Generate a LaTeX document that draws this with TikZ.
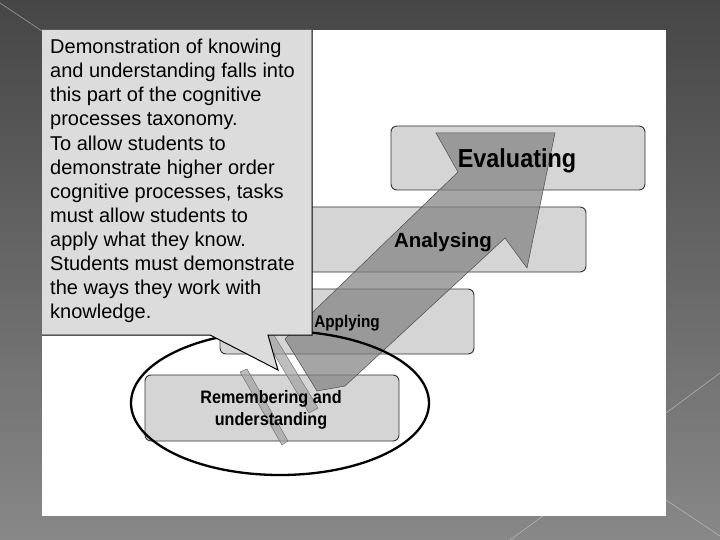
\documentclass[tikz,border=0pt]{standalone}
\usepackage{fontspec}
\setmainfont{Liberation Sans}
\newfontfamily\condsans[FakeStretch=0.9]{Liberation Sans}
\usetikzlibrary{shapes.geometric}
\definecolor{bgtop}{HTML}{464646}
\definecolor{bgbot}{HTML}{888888}
\definecolor{boxfill}{HTML}{D5D5D5}
\definecolor{callfill}{HTML}{DCDCDC}
\begin{document}
\begin{tikzpicture}[x=1pt,y=-1pt,
  deco/.style={draw=white!75!gray, line width=0.6pt, opacity=0.55},
  levelbox/.style={draw=black!80, fill=boxfill, rounded corners=6pt, line width=0.9pt, inner sep=0pt},
  bigarrow/.style={fill=black!50, fill opacity=0.7, draw=black!70, line width=0.5pt},
  tailstrip/.style={fill=black!36, fill opacity=0.7, draw=black!60, line width=0.4pt},
  lvltext/.style={inner sep=0pt, align=center},
  calltext/.style={inner sep=0pt, align=left, anchor=north west, font=\fontsize{20}{24.1}\selectfont}
]
\useasboundingbox (0,0) rectangle (720,540);
\shade[top color=bgtop, bottom color=bgbot] (0,0) rectangle (720,540);
\draw[deco] (0,3) -- (42,31);
\draw[deco] (666,413) -- (720,373);
\draw[deco] (510,540) -- (543,516);
\draw[deco] (666,500) -- (720,536);
\fill[white] (42,30) rectangle (666,516);

% level boxes
\node[levelbox, minimum width=254pt, minimum height=64pt] (evalbox) at (518,158) {};
\node[levelbox, minimum width=284pt, minimum height=65pt] (anabox) at (444,239.5) {};
\node[levelbox, minimum width=254pt, minimum height=65pt] (appbox) at (347,321.5) {};
\node[levelbox, minimum width=254pt, minimum height=66pt] (rembox) at (272,408) {};

% rising arrow and tail strips
\filldraw[bigarrow] (436,133) -- (555,133) -- (527,268) -- (505,238) -- (345,386)
  -- (317,391) -- (285,339) -- (458,172) -- cycle;
\filldraw[tailstrip] (257,325) -- (266,322) -- (318,408) -- (309,413) -- cycle;
\filldraw[tailstrip] (240,372) -- (247,369) -- (288,441) -- (282,445) -- cycle;

% level labels
\node[lvltext, font=\condsans\bfseries\fontsize{26}{30}\selectfont] (evaltext) at (517,161) {Evaluating};
\node[lvltext, font=\bfseries\fontsize{20.5}{24}\selectfont] (anatext) at (443,242) {Analysing};
\node[lvltext, font=\condsans\bfseries\fontsize{17}{20}\selectfont] (apptext) at (347,323.5) {Applying};
\node[lvltext, font=\condsans\bfseries\fontsize{18}{22}\selectfont] (remtext) at (271,410) {Remembering and\\understanding};

% focus ellipse
\node[draw=black, line width=2.3pt, ellipse, minimum width=298pt, minimum height=144pt, inner sep=0pt] (focus) at (280,403) {};

% callout
\fill[callfill] (42,30) -- (312,30) -- (312,335) -- (268,335) -- (278,370)
  -- (210,335) -- (42,335) -- cycle;
\draw[black, line width=1pt, line join=miter] (312,30) -- (312,335) -- (268,335) -- (278,370)
  -- (210,335) -- (42,335);
\node[calltext] (calltxt) at (50,39) {Demonstration of knowing\\
and understanding falls into\\
this part of the cognitive\\
processes taxonomy.\\
To allow students to\\
demonstrate higher order\\
cognitive processes, tasks\\
must allow students to\\
apply what they know.\\
Students must demonstrate\\
the ways they work with\\
knowledge.};
\end{tikzpicture}
\end{document}
